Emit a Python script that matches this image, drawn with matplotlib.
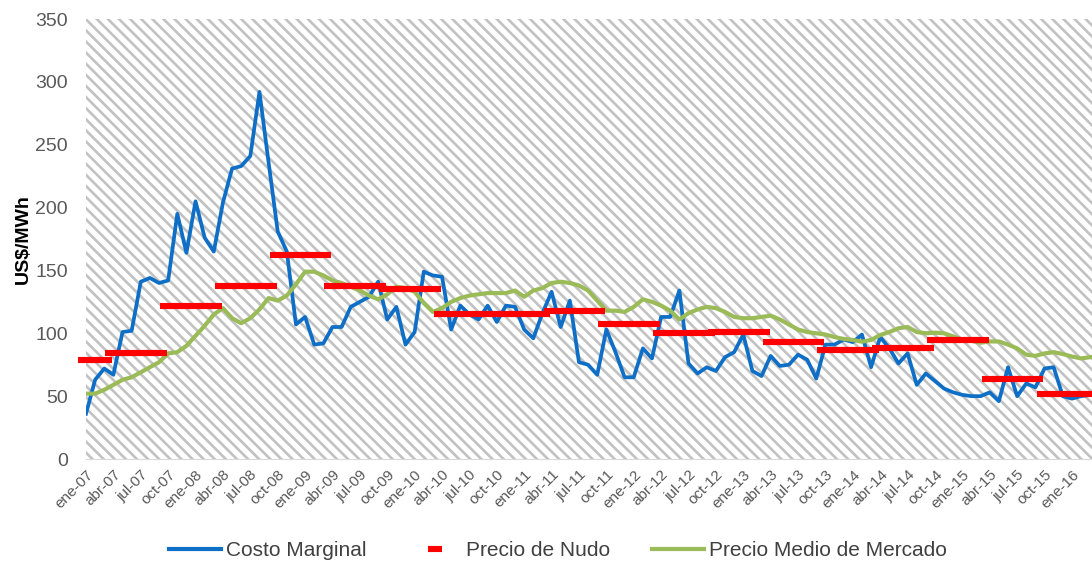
import matplotlib
matplotlib.use('Agg')
import matplotlib.pyplot as plt
from matplotlib.patches import Rectangle
from matplotlib.lines import Line2D
import numpy as np

# fuente tipo Arial
plt.rcParams['font.family'] = ['Liberation Sans', 'DejaVu Sans']
plt.rcParams['hatch.linewidth'] = 1.9

# datos mensuales ene-07 .. mar-16 (US$/MWh)
meses = np.arange(111)

costo_marginal = [
    36, 63, 72, 67, 101, 102, 141, 144, 140, 142,
    195, 164, 205, 176, 165, 204, 231, 233, 241, 292,
    236, 181, 165, 107, 113, 91, 92, 105, 105, 121,
    125, 129, 141, 111, 121, 91, 101, 149, 146, 145,
    103, 122, 115, 111, 122, 109, 122, 121, 103, 96,
    116, 133, 105, 126, 77, 75, 67, 103, 85, 65,
    65, 88, 80, 113, 113, 134, 76, 68, 73, 70,
    81, 85, 99, 70, 66, 82, 74, 75, 83, 79,
    64, 91, 91, 95, 93, 99, 73, 97, 88, 76,
    84, 59, 68, 62, 56, 53, 51, 50, 50, 53,
    46, 73, 50, 60, 57, 72, 73, 50, 48, 50, 51,
]

precio_nudo = [
    79, 79, 79,
    84, 84, 84, 84, 84, 84,
    122, 122, 122, 122, 122, 122,
    138, 138, 138, 138, 138, 138,
    162, 162, 162, 162, 162, 162,
    137.5, 137.5, 137.5, 137.5, 137.5, 137.5,
    135.5, 135.5, 135.5, 135.5, 135.5, 135.5,
    115.5, 115.5, 115.5, 115.5, 115.5, 115.5,
    115, 115, 115, 115, 115, 115,
    117.5, 117.5, 117.5, 117.5, 117.5, 117.5,
    107, 107, 107, 107, 107, 107,
    100.5, 100.5, 100.5, 100.5, 100.5, 100.5,
    101, 101, 101, 101, 101, 101,
    93, 93, 93, 93, 93, 93,
    86.5, 86.5, 86.5, 86.5, 86.5, 86.5,
    88, 88, 88, 88, 88, 88,
    95, 95, 95, 95, 95, 95,
    64, 64, 64, 64, 64, 64,
    52, 52, 52, 52, 52, 52,
]

precio_medio = [
    52, 52, 55, 59, 63, 65, 69, 73, 77, 84,
    85, 90, 98, 106, 115, 120, 112, 108, 112, 119,
    128, 126, 130, 139, 149, 149, 146, 142, 140, 137,
    134, 130, 127, 131, 137, 136, 133, 124, 117, 120,
    125, 128, 130, 131, 132, 132, 132, 134, 129, 134,
    136, 140, 141, 140, 138, 134, 126, 118, 118, 117,
    121, 127, 125, 122, 118, 111, 116, 119, 121, 120,
    117, 113, 112, 112, 113, 114, 111, 107, 103, 101,
    100, 99, 97, 95.5, 94.7, 93.3, 94.7, 98.6, 101, 104,
    105, 101, 100, 100.5, 100, 97.5, 95, 94, 92.5, 93.5,
    93.5, 91, 88, 83, 82, 84, 85, 83.5, 81.5, 80, 81,
]

etiquetas = [
    'ene-07', 'abr-07', 'jul-07', 'oct-07', 'ene-08', 'abr-08', 'jul-08', 'oct-08',
    'ene-09', 'abr-09', 'jul-09', 'oct-09', 'ene-10', 'abr-10', 'jul-10', 'oct-10',
    'ene-11', 'abr-11', 'jul-11', 'oct-11', 'ene-12', 'abr-12', 'jul-12', 'oct-12',
    'ene-13', 'abr-13', 'jul-13', 'oct-13', 'ene-14', 'abr-14', 'jul-14', 'oct-14',
    'ene-15', 'abr-15', 'jul-15', 'oct-15', 'ene-16',
]

azul = '#0f6fc6'
rojo = '#ff0000'
verde = '#9bbb59'

fig = plt.figure(figsize=(10.92, 5.63), dpi=100)
ax = fig.add_axes([86 / 1092, 104 / 563, 1006 / 1092, 440 / 563])

# fondo rayado
ax.add_patch(Rectangle((0, 0), 1, 1, transform=ax.transAxes, facecolor='white',
                       edgecolor='#c2c2c2', hatch='\\\\\\', linewidth=0, zorder=0))

ax.plot(meses, costo_marginal, color=azul, linewidth=2.7, zorder=2)
ax.plot(meses, precio_medio, color=verde, linewidth=3.0, zorder=3)
ax.plot(meses, precio_nudo, linestyle='none', marker='_', markersize=11,
        markeredgewidth=4.4, color=rojo, clip_on=False, zorder=4)

ax.set_xlim(0, 110.2)
ax.set_ylim(0, 350)

ax.set_xticks(np.arange(0, 111, 3))
ax.set_xticklabels(etiquetas, rotation=45, ha='right', rotation_mode='anchor',
                   fontsize=11, color='#595959')
ax.set_yticks(range(0, 351, 50))
ax.tick_params(axis='y', length=0, pad=13, labelsize=14, labelcolor='#595959')
ax.tick_params(axis='x', length=0, pad=6)

for s in ['top', 'right', 'left']:
    ax.spines[s].set_visible(False)
ax.spines['bottom'].set_color('#d9d9d9')

ax.set_ylabel('US$/MWh', fontsize=14, fontweight='bold', color='black')
ax.yaxis.set_label_coords(-0.054, 0.5)

handles = [
    Line2D([], [], color=azul, linewidth=3),
    Line2D([], [], color=rojo, linestyle='none', marker='_', markersize=10, markeredgewidth=4.4),
    Line2D([], [], color=verde, linewidth=3),
]
nombres = ['Costo Marginal', 'Precio de Nudo', 'Precio Medio de Mercado']
leg = fig.legend(handles, nombres, loc='center', bbox_to_anchor=(0.511, 0.022), ncol=3,
                 frameon=False, fontsize=15, handlelength=2.5, handletextpad=0.25,
                 columnspacing=2.0, numpoints=1)
for t in leg.get_texts():
    t.set_color('#404040')

fig.savefig('out.png', dpi=100)
